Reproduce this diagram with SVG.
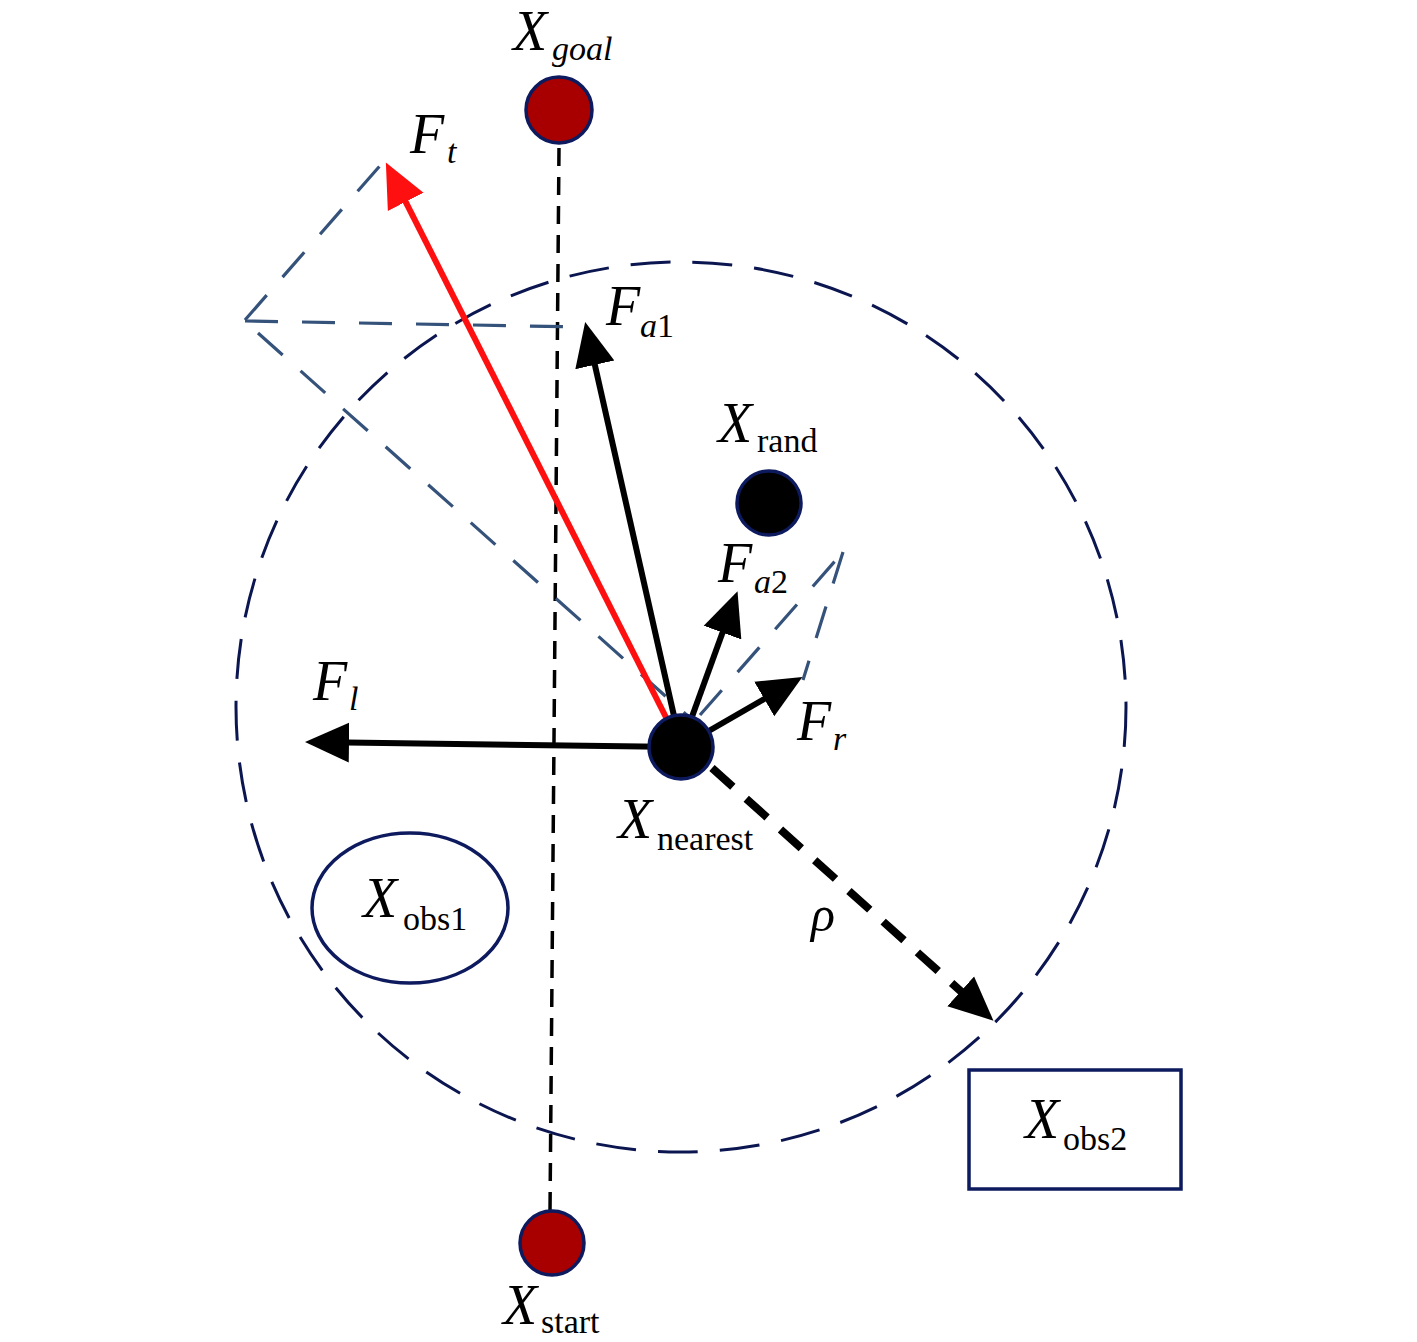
<svg xmlns="http://www.w3.org/2000/svg" width="1417" height="1342" viewBox="0 0 1417 1342">
<style>
.lbl{font-family:"Liberation Serif","Times New Roman",serif;fill:#000}
.big{font-size:56px;font-style:italic}
.sub{font-size:34px}
.it{font-style:italic}
.guide{fill:none;stroke:#34527a;stroke-width:3.2;stroke-dasharray:33 24}
.vec{fill:none;stroke:#000;stroke-width:6}
.node{stroke:#0e1a5e;stroke-width:3.5}
</style>
<defs>
<marker id="ah" markerUnits="userSpaceOnUse" markerWidth="46" markerHeight="44" viewBox="0 -22 46 44" refX="2" refY="0" orient="auto">
<path d="M0,-20 L44,0 L0,20 z" fill="#000"/>
</marker>
<marker id="ahr" markerUnits="userSpaceOnUse" markerWidth="46" markerHeight="44" viewBox="0 -22 46 44" refX="2" refY="0" orient="auto">
<path d="M0,-20 L44,0 L0,20 z" fill="#ff1010"/>
</marker>
</defs>
<rect width="1417" height="1342" fill="#fff"/>

<g id="range-circle">
<circle cx="681" cy="707" r="445" fill="none" stroke="#0b1650" stroke-width="3" stroke-dasharray="40 22"/>
</g>

<g id="connectors">
<line x1="559" y1="148" x2="550" y2="1212" stroke="#000" stroke-width="3.5" stroke-dasharray="18 11"/>
<line class="guide" x1="245" y1="320" x2="385" y2="160"/>
<line class="guide" x1="245" y1="321" x2="585" y2="327"/>
<line class="guide" x1="258" y1="333" x2="690" y2="718"/>
<line class="guide" x1="700" y1="715" x2="843" y2="552"/>
<line class="guide" x1="843" y1="552" x2="803" y2="680"/>
<line x1="681" y1="747" x2="404.8" y2="200.1" stroke="#ff1010" stroke-width="6" marker-end="url(#ahr)"/>
<line class="vec" x1="681" y1="747" x2="594.4" y2="362.9" marker-end="url(#ah)"/>
<line class="vec" x1="681" y1="747" x2="723.2" y2="630.7" marker-end="url(#ah)"/>
<line class="vec" x1="681" y1="747" x2="766" y2="698" marker-end="url(#ah)"/>
<line class="vec" x1="681" y1="747" x2="347" y2="742.6" marker-end="url(#ah)"/>
<line x1="712" y1="768" x2="962.2" y2="992.6" stroke="#000" stroke-width="8" stroke-dasharray="28 18" marker-end="url(#ah)"/>
</g>

<g id="x-goal">
<circle class="node" cx="559" cy="110" r="33" fill="#a80000"/>
<text class="lbl big" x="513" y="50">X</text>
<text class="lbl sub it" x="552" y="60">goal</text>
</g>

<g id="x-start">
<circle class="node" cx="552" cy="1243" r="32" fill="#a80000"/>
<text class="lbl big" x="503" y="1324">X</text>
<text class="lbl sub" x="541" y="1333">start</text>
</g>

<g id="x-rand">
<circle class="node" cx="769" cy="503" r="32" fill="#000"/>
<text class="lbl big" x="718" y="442">X</text>
<text class="lbl sub" x="757" y="452">rand</text>
</g>

<g id="x-nearest">
<circle class="node" cx="681" cy="747" r="32" fill="#000"/>
<text class="lbl big" x="618" y="838">X</text>
<text class="lbl sub" x="657" y="850">nearest</text>
</g>

<g id="x-obs1">
<ellipse cx="410" cy="908" rx="98" ry="75" fill="none" stroke="#0e1a5e" stroke-width="3.5"/>
<text class="lbl big" x="363" y="917">X</text>
<text class="lbl sub" x="403" y="930">obs1</text>
</g>

<g id="x-obs2">
<rect x="969" y="1070" width="212" height="119" fill="none" stroke="#0e1a5e" stroke-width="3.5"/>
<text class="lbl big" x="1025" y="1138">X</text>
<text class="lbl sub" x="1063" y="1150">obs2</text>
</g>

<g id="labels">
<text class="lbl big" x="410" y="153">F</text>
<text class="lbl sub it" x="447" y="163">t</text>
<text class="lbl big" x="606" y="325">F</text>
<text class="lbl sub" x="640" y="337"><tspan class="it">a</tspan>1</text>
<text class="lbl big" x="718" y="582">F</text>
<text class="lbl sub" x="754" y="593"><tspan class="it">a</tspan>2</text>
<text class="lbl big" x="797" y="740">F</text>
<text class="lbl sub it" x="833" y="750">r</text>
<text class="lbl big" x="313" y="700">F</text>
<text class="lbl sub it" x="349" y="710">l</text>
<text class="lbl it" style="font-size:50px" x="811" y="931">ρ</text>
</g>
</svg>
